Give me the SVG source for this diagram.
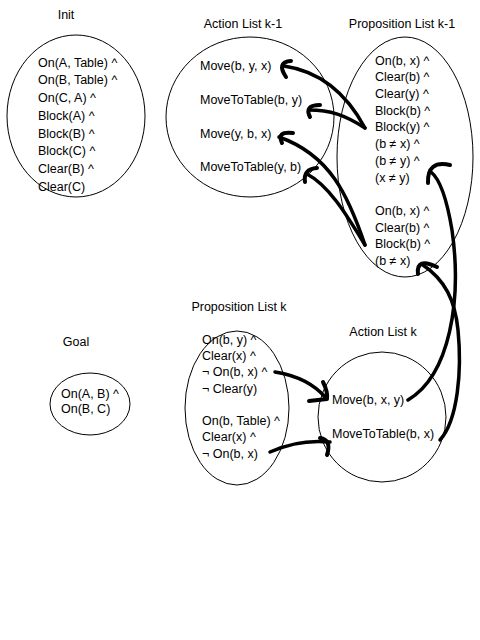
<svg xmlns="http://www.w3.org/2000/svg" width="480" height="640" viewBox="0 0 480 640">
<style>
.bg{fill:#fff}
.node{fill:none;stroke:#000;stroke-width:1}
text{font-family:"Liberation Sans",Arial,sans-serif;font-size:12.5px;fill:#000}
.title{text-anchor:middle}
.conn path{fill:none;stroke:#000;stroke-linecap:round;stroke-linejoin:round}
.line{stroke-width:3.5}
.head{stroke-width:4}
</style>
<rect class="bg" width="480" height="640"/>

<g id="init">
<text class="title" x="66" y="19">Init</text>
<ellipse class="node" cx="76" cy="116" rx="69" ry="81"/>
<text x="38" y="66.5">On(A, Table) ^</text>
<text x="38" y="84">On(B, Table) ^</text>
<text x="38" y="101.5">On(C, A) ^</text>
<text x="38" y="119.5">Block(A) ^</text>
<text x="38" y="137.5">Block(B) ^</text>
<text x="38" y="155">Block(C) ^</text>
<text x="38" y="172.5">Clear(B) ^</text>
<text x="38" y="190.5">Clear(C)</text>
</g>

<g id="action-list-k-1">
<text class="title" x="243" y="27.5">Action List k-1</text>
<ellipse class="node" cx="250" cy="117" rx="84" ry="80"/>
<text x="200" y="69.5">Move(b, y, x)</text>
<text x="200" y="103.5">MoveToTable(b, y)</text>
<text x="200" y="137.5">Move(y, b, x)</text>
<text x="200" y="170.5">MoveToTable(y, b)</text>
</g>

<g id="proposition-list-k-1">
<text class="title" x="402" y="27.5">Proposition List k-1</text>
<ellipse class="node" cx="405" cy="157" rx="68" ry="120"/>
<text x="375" y="64.5">On(b, x) ^</text>
<text x="375" y="81">Clear(b) ^</text>
<text x="375" y="97.5">Clear(y) ^</text>
<text x="375" y="114.5">Block(b) ^</text>
<text x="375" y="131">Block(y) ^</text>
<text x="375" y="147.5">(b ≠ x) ^</text>
<text x="375" y="165">(b ≠ y) ^</text>
<text x="375" y="181.5">(x ≠ y)</text>
<text x="375" y="215">On(b, x) ^</text>
<text x="375" y="231.5">Clear(b) ^</text>
<text x="375" y="248">Block(b) ^</text>
<text x="375" y="265">(b ≠ x)</text>
</g>

<g id="goal">
<text class="title" x="76" y="346">Goal</text>
<ellipse class="node" cx="90" cy="404" rx="40" ry="31"/>
<text x="61" y="397.5">On(A, B) ^</text>
<text x="61" y="413">On(B, C)</text>
</g>

<g id="proposition-list-k">
<text class="title" x="239" y="311">Proposition List k</text>
<ellipse class="node" cx="237" cy="408" rx="52" ry="77"/>
<text x="202" y="344">On(b, y) ^</text>
<text x="202" y="360">Clear(x) ^</text>
<text x="202" y="376">¬ On(b, x) ^</text>
<text x="202" y="393">¬ Clear(y)</text>
<text x="202" y="425">On(b, Table) ^</text>
<text x="202" y="441">Clear(x) ^</text>
<text x="202" y="458">¬ On(b, x)</text>
</g>

<g id="action-list-k">
<text class="title" x="383" y="336">Action List k</text>
<ellipse class="node" cx="382" cy="417" rx="64" ry="65"/>
<text x="332" y="403.5">Move(b, x, y)</text>
<text x="332" y="437.5">MoveToTable(b, x)</text>
</g>

<g id="connectors" class="conn">
<path class="line" d="M365,128 C350,100 325,72 284,66"/>
<path class="head" d="M291,61 Q276,62 286,77"/>
<path class="line" d="M365,128 C345,115 330,110 309,110"/>
<path class="head" d="M320,105 Q304,105 310,117"/>
<path class="line" d="M365,245 C348,195 330,155 279,137"/>
<path class="head" d="M293,133 Q276,131 282,143"/>
<path class="line" d="M365,245 C345,212 328,185 307,174"/>
<path class="head" d="M317,168 Q303,169 305,182"/>
<path class="line" d="M408,400 C450,375 462,300 452,230 C447,200 441,180 431,172"/>
<path class="head" d="M450,165 Q427,160 428,183"/>
<path class="line" d="M440,440 C458,420 462,370 458,330 C455,300 445,280 423,265"/>
<path class="head" d="M437,267 Q416,257 418,274"/>
<path class="line" d="M275,372 C300,376 315,385 326,398"/>
<path class="head" d="M323,382 Q328,392 327,399 L309,401"/>
<path class="line" d="M270,452 C290,443 310,440 330,442"/>
<path class="head" d="M320,438 Q332,440 327,455"/>
</g>
</svg>
